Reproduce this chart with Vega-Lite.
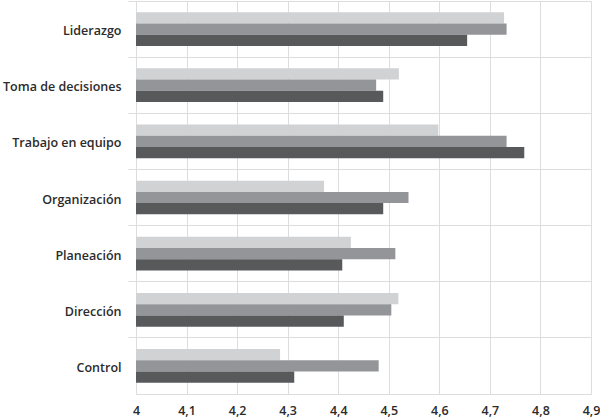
{
  "$schema": "https://vega.github.io/schema/vega-lite/v6.json",
  "autosize": {"type": "none"},
  "width": 455,
  "height": 393,
  "padding": {"left": 136, "top": 1, "right": 9, "bottom": 25},
  "config": {
    "view": {"stroke": null},
    "locale": {"number": {"decimal": ",", "thousands": ".", "grouping": [3], "currency": ["", "€"]}},
    "font": "Open Sans"
  },
  "data": {"values": [
    {"cat": "Liderazgo", "serie": "A", "valor": 4.728},
    {"cat": "Liderazgo", "serie": "B", "valor": 4.733},
    {"cat": "Liderazgo", "serie": "C", "valor": 4.655},
    {"cat": "Toma de decisiones", "serie": "A", "valor": 4.52},
    {"cat": "Toma de decisiones", "serie": "B", "valor": 4.475},
    {"cat": "Toma de decisiones", "serie": "C", "valor": 4.489},
    {"cat": "Trabajo en equipo", "serie": "A", "valor": 4.598},
    {"cat": "Trabajo en equipo", "serie": "B", "valor": 4.733},
    {"cat": "Trabajo en equipo", "serie": "C", "valor": 4.768},
    {"cat": "Organización", "serie": "A", "valor": 4.372},
    {"cat": "Organización", "serie": "B", "valor": 4.539},
    {"cat": "Organización", "serie": "C", "valor": 4.489},
    {"cat": "Planeación", "serie": "A", "valor": 4.425},
    {"cat": "Planeación", "serie": "B", "valor": 4.513},
    {"cat": "Planeación", "serie": "C", "valor": 4.408},
    {"cat": "Dirección", "serie": "A", "valor": 4.519},
    {"cat": "Dirección", "serie": "B", "valor": 4.505},
    {"cat": "Dirección", "serie": "C", "valor": 4.411},
    {"cat": "Control", "serie": "A", "valor": 4.285},
    {"cat": "Control", "serie": "B", "valor": 4.48},
    {"cat": "Control", "serie": "C", "valor": 4.313}
  ]},
  "mark": {"type": "bar", "clip": true},
  "encoding": {
    "y": {
      "field": "cat", "type": "nominal", "sort": null,
      "scale": {"paddingInner": 0, "paddingOuter": 0},
      "axis": {
        "title": null, "bandPosition": 0, "grid": true, "gridColor": "#dcdddf", "gridWidth": 1,
        "ticks": true, "tickSize": 8, "tickColor": "#dcdddf", "domain": false,
        "labelFontSize": 12.5, "labelFontWeight": 600, "labelColor": "#2b2b2b", "labelPadding": 7, "labelOffset": 2
      }
    },
    "yOffset": {"field": "serie", "type": "nominal", "scale": {"paddingInner": 0, "paddingOuter": 1.33}},
    "x": {
      "field": "valor", "type": "quantitative",
      "scale": {"domain": [4, 4.9], "zero": false, "nice": false},
      "axis": {
        "title": null, "values": [4, 4.1, 4.2, 4.3, 4.4, 4.5, 4.6, 4.7, 4.8, 4.9], "format": ".1~f",
        "grid": true, "gridColor": "#dcdddf", "ticks": false, "domainColor": "#dcdddf",
        "labelFontSize": 12.5, "labelFontWeight": 600, "labelColor": "#2b2b2b", "labelPadding": 10, "labelFlush": false
      }
    },
    "x2": {"datum": 4},
    "color": {
      "field": "serie", "type": "nominal", "legend": null,
      "scale": {"domain": ["A", "B", "C"], "range": ["#d1d2d4", "#939598", "#58595b"]}
    }
  }
}
